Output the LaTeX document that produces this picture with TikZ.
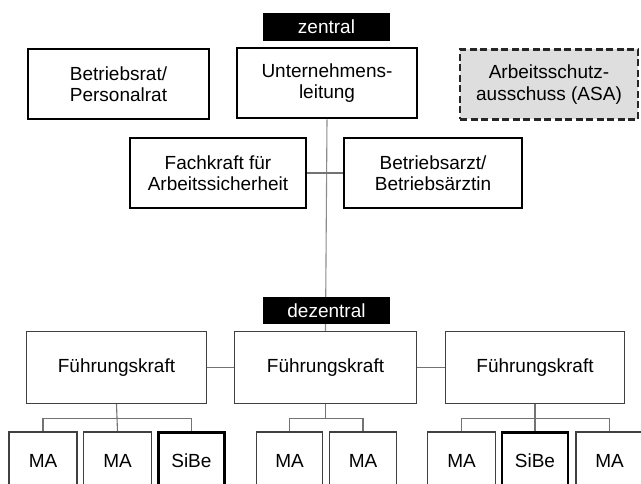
\documentclass[tikz,border=0pt]{standalone}
\usepackage{fontspec}
\setmainfont{Liberation Sans}
\usetikzlibrary{backgrounds}
\begin{document}
\begin{tikzpicture}[x=1pt,y=-1pt,
  txt/.style={font=\fontsize{19}{21.5}\selectfont, align=center, inner sep=0pt},
  thickbox/.style={txt, draw=black, line width=2.6pt, fill=white, minimum height=70pt},
  thinbox/.style={txt, draw=black!75, line width=1.1pt, fill=white, minimum height=72pt},
  mabox/.style={txt, draw=black!75, line width=1.1pt, fill=white, minimum height=58pt},
  sibebox/.style={mabox, draw=black, line width=2.6pt, minimum height=57pt},
  tag/.style={txt, fill=black, text=white, minimum width=127pt, minimum height=28pt},
  asabox/.style={txt, draw=black!85, dash pattern=on 7pt off 3.5pt, line width=2.2pt, fill=black!13, minimum height=70pt},
  conn/.style={draw=black!55, line width=1.1pt}]
\useasboundingbox (0,0) rectangle (641,484);

% top level
\node[tag] (zen) at (326.5,26.7) {zentral};
\node[thickbox, minimum width=181pt] (br) at (118.5,84) {Betriebsrat/\\Personalrat};
\node[thickbox, minimum width=180pt] (ul) at (327,83) {Unternehmens-\\leitung};
\node[asabox, minimum width=178pt] (asa) at (549,84.5) {Arbeitsschutz-\\ausschuss (ASA)};
\node[thickbox, minimum width=176pt] (fa) at (218,173) {Fachkraft für\\Arbeitssicherheit};
\node[thickbox, minimum width=178pt] (ba) at (433,173) {Betriebsarzt/\\Betriebsärztin};

% lower level
\node[tag, minimum height=27pt] (dez) at (326.5,310.5) {dezentral};
\node[thinbox, minimum width=180pt] (fk1) at (116.5,367.5) {Führungskraft};
\node[thinbox, minimum width=182pt] (fk2) at (325.5,367.5) {Führungskraft};
\node[thinbox, minimum width=179pt] (fk3) at (535,367.5) {Führungskraft};

\node[mabox, minimum width=68pt] (ma1) at (43,461) {MA};
\node[mabox, minimum width=68pt] (ma2) at (117.5,461) {MA};
\node[sibebox, minimum width=66pt] (sb1) at (191.4,461) {SiBe};
\node[mabox, minimum width=66pt] (ma4) at (289.5,461) {MA};
\node[mabox, minimum width=67pt] (ma5) at (363,461) {MA};
\node[mabox, minimum width=68pt] (ma6) at (461.5,461) {MA};
\node[sibebox, minimum width=66pt] (sb2) at (535,461) {SiBe};
\node[mabox, minimum width=67pt] (ma7) at (609.5,461) {MA};

\coordinate (b1) at (117.5,418.3);
\coordinate (b2) at (325.5,418.3);
\coordinate (b3) at (535,418.3);

\begin{scope}[on background layer]
  \fill[white] (0,0) rectangle (641,484);
  \draw[conn, draw=black!45] (ul.south) -- (fk2.north);
  \draw[conn] (fa.east) -- (ba.west);
  \draw[conn] (fk1.east) -- (fk2.west);
  \draw[conn] (fk2.east) -- (fk3.west);
  \draw[conn] (fk1.south) -- (ma2.north);
  \draw[conn] (ma1.north) |- (b1) -| (sb1.north);
  \draw[conn] (fk2.south) -- (b2);
  \draw[conn] (ma4.north) |- (b2) -| (ma5.north);
  \draw[conn] (fk3.south) -- (sb2.north);
  \draw[conn] (ma6.north) |- (b3) -| (ma7.north);
\end{scope}
\end{tikzpicture}
\end{document}
